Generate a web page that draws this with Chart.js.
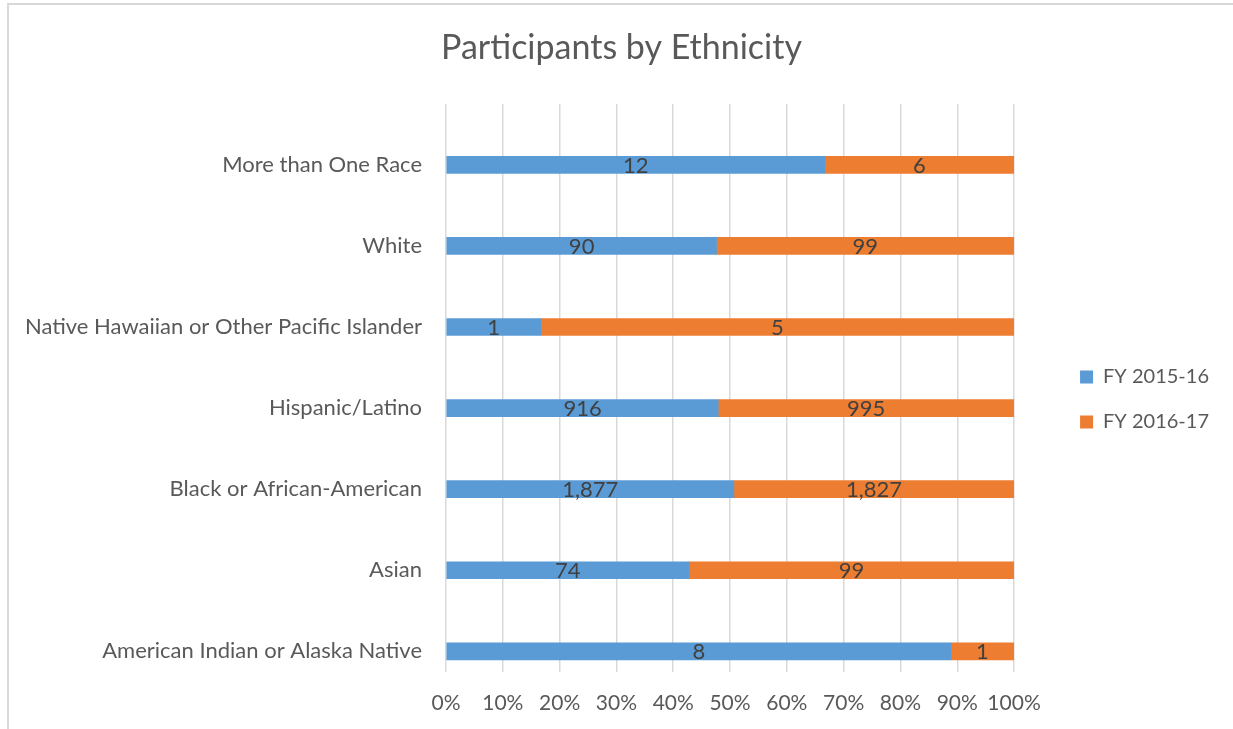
<!DOCTYPE html>
<html>
<head>
<meta charset="utf-8">
<script src="https://cdn.jsdelivr.net/npm/chart.js@4"></script>
<style>
  html, body { margin: 0; padding: 0; background: #ffffff; overflow: hidden; }
  #frame { position: absolute; left: 7px; top: 3px; width: 1400px; height: 900px; border: 2px solid #d9d9d9; box-sizing: border-box; }
  #wrap { position: absolute; left: 0; top: 0; width: 1233px; height: 729px; }
</style>
</head>
<body>
<div id="frame"></div>
<div id="wrap"><canvas id="c" width="1233" height="729"></canvas></div>
<script>
const categories = [
  "More than One Race",
  "White",
  "Native Hawaiian or Other Pacific Islander",
  "Hispanic/Latino",
  "Black or African-American",
  "Asian",
  "American Indian or Alaska Native"
];
const fy1516 = [12, 90, 1, 916, 1877, 74, 8];
const fy1617 = [6, 99, 5, 995, 1827, 99, 1];
const seriesNames = ["FY 2015-16", "FY 2016-17"];
const xTickStep = 10;

const totals = categories.map((_, i) => fy1516[i] + fy1617[i]);
const pctPoints = (vals) => vals.map((v, i) => ({ x: v / totals[i] * 100, y: i }));

const FONT = "Lato, 'Open Sans', sans-serif";
const TXT = "#595959";

const valueLabels = {
  id: 'valueLabels',
  afterDatasetsDraw(chart) {
    const ctx = chart.ctx;
    ctx.save();
    ctx.font = "22px " + FONT;
    ctx.fillStyle = "#404040";
    ctx.textAlign = "center";
    ctx.textBaseline = "middle";
    chart.data.datasets.forEach((ds, di) => {
      const meta = chart.getDatasetMeta(di);
      meta.data.forEach((el, i) => {
        const cx = (el.x + el.base) / 2;
        ctx.fillText(ds.raw[i].toLocaleString('en-US'), cx, el.y + 1);
      });
    });
    ctx.restore();
  }
};

new Chart(document.getElementById('c'), {
  type: 'bar',
  data: {
    datasets: [
      { label: seriesNames[0], data: pctPoints(fy1516), raw: fy1516, stack: 's', backgroundColor: '#5b9bd5', borderWidth: 0, barThickness: 17 },
      { label: seriesNames[1], data: pctPoints(fy1617), raw: fy1617, stack: 's', backgroundColor: '#ed7d31', borderWidth: 0, barThickness: 17 }
    ]
  },
  options: {
    indexAxis: 'y',
    responsive: false,
    animation: false,
    devicePixelRatio: 1,
    layout: { padding: { left: 24, right: 14, top: 0, bottom: -6.6 } },
    plugins: {
      title: {
        display: true,
        text: 'Participants by Ethnicity',
        color: TXT,
        font: { family: FONT, size: 34, weight: 'normal' },
        padding: { top: 27.6, bottom: 35.6 }
      },
      legend: {
        position: 'right',
        align: 'center',
        title: { display: true, text: ' ', font: { size: 10 }, padding: { top: 51.4, bottom: 0 } },
        labels: {
          color: TXT,
          font: { family: FONT, size: 20 },
          boxWidth: 13,
          boxHeight: 13,
          padding: 25
        }
      },
      tooltip: { enabled: false }
    },
    scales: {
      x: {
        stacked: true,
        min: 0,
        max: 100,
        grid: { color: '#d9d9d9', lineWidth: 1.5, drawTicks: false },
        border: { display: false },
        ticks: {
          stepSize: xTickStep,
          autoSkip: false,
          color: TXT,
          font: { family: FONT, size: 21 },
          padding: 19.4,
          maxRotation: 0,
          callback: (v) => v + '%'
        }
      },
      y: {
        type: 'linear',
        reverse: true,
        offset: false,
        min: -0.75,
        max: categories.length - 0.75,
        grid: { display: false, drawTicks: false, offset: false },
        border: { display: false },
        afterBuildTicks(scale) { scale.ticks = categories.map((_, i) => ({ value: i })); },
        ticks: {
          autoSkip: false,
          color: TXT,
          font: { family: FONT, size: 22 },
          padding: 24,
          callback: (v) => categories[v]
        },
        afterFit(scale) { scale.width = 422; }
      },
      gap: {
        type: 'category',
        labels: categories,
        position: 'right',
        display: true,
        grid: { display: false, drawTicks: false },
        border: { display: false },
        ticks: { display: false },
        afterFit(scale) { scale.width = 41; }
      }
    }
  },
  plugins: [valueLabels]
});
</script>
</body>
</html>
